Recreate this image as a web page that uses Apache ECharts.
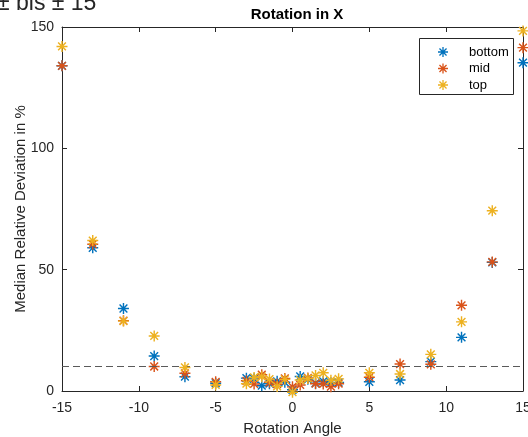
<!DOCTYPE html>
<html>
<head>
<meta charset="utf-8">
<script src="https://cdn.jsdelivr.net/npm/echarts@6/dist/echarts.min.js"></script>
<style>
html,body{margin:0;padding:0;background:#fff;}
#chart{width:528px;height:437px;}
</style>
</head>
<body>
<div id="chart"></div>
<script>
// ---- data ----
const angles = [-15, -13, -11, -9, -7, -5, -3, -2.5, -2, -1.5, -1, -0.5, 0, 0.5, 1, 1.5, 2, 2.5, 3, 5, 7, 9, 11, 13, 15];
const bottomVals = [134, 59, 34, 14.4, 5.9, 3.2, 5.3, 5.0, 2.2, 3.0, 4.0, 3.6, 0.5, 6.0, 4.8, 3.2, 4.0, 3.4, 3.5, 3.8, 4.5, 12.1, 22.1, 53.0, 135.3];
const midVals = [134, 60.5, 29, 10.1, 7.3, 3.8, 4.2, 2.9, 6.7, 3.6, 2.8, 5.2, 1.7, 2.5, 5.4, 3.0, 2.9, 1.8, 3.0, 5.7, 11.1, 11.0, 35.3, 53.2, 141.5];
const topVals = [142, 62, 28.8, 22.7, 9.7, 2.5, 3.0, 5.6, 5.9, 4.9, 1.9, 4.8, -0.5, 4.5, 5.1, 6.4, 7.5, 4.4, 5.0, 7.5, 7.0, 15.1, 28.5, 74.3, 148.4];
const seriesNames = ['bottom', 'mid', 'top'];
const seriesColors = ['#0072BD', '#D95319', '#EDB120'];
const threshold = 10;
const xTicks = {min: -15, max: 15, interval: 5};
const yTicks = {min: 0, max: 150, interval: 50};
const titleText = 'Rotation in X';
const xName = 'Rotation Angle';
const yName = 'Median Relative Deviation in %';
const cutText = '± bis ± 15';

// ---- chart ----
const FONT = '"Liberation Sans", Arial, sans-serif';
const AX = '#262626';
const asterisk = 'path://M8.7,0 L11.3,0 L11.3,20 L8.7,20 Z M0,8.7 L20,8.7 L20,11.3 L0,11.3 Z M3.85,2.0 L18.0,16.15 L16.15,18.0 L2.0,3.85 Z M16.15,2.0 L18.0,3.85 L3.85,18.0 L2.0,16.15 Z';

const valueSets = [bottomVals, midVals, topVals];
const series = valueSets.map((vals, i) => ({
  name: seriesNames[i],
  type: 'scatter',
  symbol: asterisk,
  symbolSize: 11,
  clip: false,
  z: 3 + i,
  itemStyle: {color: seriesColors[i], opacity: 1},
  data: angles.map((a, k) => [a, vals[k]])
}));
series.push({
  name: 'threshold',
  type: 'line',
  data: [],
  symbol: 'none',
  z: 2,
  markLine: {
    silent: true,
    symbol: 'none',
    label: {show: false},
    lineStyle: {type: [7, 4], color: '#5a5a5a', width: 1},
    data: [{yAxis: threshold}]
  }
});

function axisCommon(show) {
  return {
    axisLine: {show: true, onZero: false, lineStyle: {color: AX, width: 1}},
    axisTick: {show: true, inside: true, length: 5, lineStyle: {color: AX, width: 1}},
    splitLine: {show: false},
    axisLabel: {show: show, color: AX, fontSize: 14, fontFamily: FONT}
  };
}

const chart = echarts.init(document.getElementById('chart'), null, {renderer: 'canvas'});
chart.setOption({
  animation: false,
  backgroundColor: '#ffffff',
  textStyle: {fontFamily: FONT},
  title: {
    text: titleText,
    left: 292, top: 2,
    textAlign: 'center',
    textStyle: {fontSize: 15, fontWeight: 'bold', color: '#000', fontFamily: FONT}
  },
  graphic: [
    {type: 'text', left: -3, top: -8, style: {text: cutText, fill: AX, font: '23px "Liberation Sans", Arial, sans-serif'}},
    {type: 'rect', shape: {x: 419.5, y: 38.5, width: 94, height: 56}, style: {fill: '#fff', stroke: AX, lineWidth: 1}, z: 10}
  ],
  legend: {
    data: seriesNames,
    orient: 'vertical',
    left: 438, top: 45,
    padding: 0,
    itemWidth: 10, itemHeight: 10,
    itemGap: 2.5,
    icon: asterisk,
    z: 11,
    textStyle: {fontSize: 13, color: '#000', fontFamily: FONT, lineHeight: 14, padding: [0, 0, 0, 16]}
  },
  grid: {left: 62, right: 5, top: 27, bottom: 46, containLabel: false, outerBoundsMode: 'none'},
  xAxis: [
    Object.assign({type: 'value', position: 'bottom', min: xTicks.min, max: xTicks.max, interval: xTicks.interval,
      name: xName, nameLocation: 'middle', nameGap: 30, nameMoveOverlap: false,
      nameTextStyle: {fontSize: 15, color: AX, fontFamily: FONT}}, axisCommon(true),
      {axisLabel: {show: true, color: AX, fontSize: 14, fontFamily: FONT, margin: 10}}),
    Object.assign({type: 'value', position: 'top', min: xTicks.min, max: xTicks.max, interval: xTicks.interval}, axisCommon(false))
  ],
  yAxis: [
    Object.assign({type: 'value', position: 'left', min: yTicks.min, max: yTicks.max, interval: yTicks.interval,
      name: yName, nameLocation: 'middle', nameGap: 34, nameMoveOverlap: false,
      nameTextStyle: {fontSize: 15, color: AX, fontFamily: FONT}}, axisCommon(true),
      {axisLabel: {show: true, color: AX, fontSize: 14, fontFamily: FONT, margin: 8}}),
    Object.assign({type: 'value', position: 'right', min: yTicks.min, max: yTicks.max, interval: yTicks.interval}, axisCommon(false))
  ],
  series: series
});
</script>
</body>
</html>
